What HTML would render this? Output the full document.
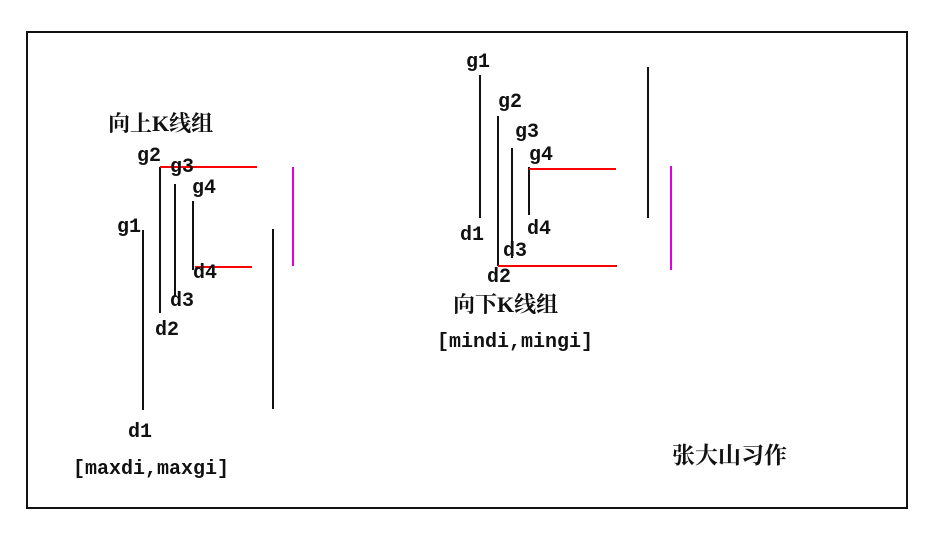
<!DOCTYPE html>
<html><head><meta charset="utf-8"><style>
html,body{margin:0;padding:0;background:#fff;}
svg{display:block;}
text{font-family:"Liberation Mono","Noto Serif CJK SC",monospace;font-size:20px;fill:#111;font-weight:bold;}
.c{font-family:"Liberation Serif","Noto Serif CJK SC",serif;font-size:22px;font-weight:bold;}
</style></head><body>
<svg width="950" height="537" viewBox="0 0 950 537">
<rect x="27" y="32" width="880" height="476" fill="none" stroke="#111" stroke-width="2"/>
<g stroke="#111" stroke-width="2">
<line x1="143" y1="230" x2="143" y2="410"/>
<line x1="160" y1="167" x2="160" y2="313"/>
<line x1="175" y1="184" x2="175" y2="297"/>
<line x1="193" y1="201" x2="193" y2="270"/>
<line x1="273" y1="229" x2="273" y2="409"/>
<line x1="480" y1="75" x2="480" y2="218"/>
<line x1="498" y1="116" x2="498" y2="266"/>
<line x1="512" y1="148" x2="512" y2="258"/>
<line x1="529" y1="167" x2="529" y2="215"/>
<line x1="648" y1="67" x2="648" y2="218"/>
</g>
<g stroke="#f00" stroke-width="2">
<line x1="160" y1="167" x2="257" y2="167"/>
<line x1="195" y1="267" x2="252" y2="267"/>
<line x1="529" y1="169" x2="616" y2="169"/>
<line x1="498" y1="266" x2="617" y2="266"/>
</g>
<g stroke="#e000e0" stroke-width="2">
<line x1="293" y1="167" x2="293" y2="266"/>
<line x1="671" y1="166" x2="671" y2="270"/>
</g>
<text class="c" x="108" y="131">向上K线组</text>
<text x="117" y="232">g1</text>
<text x="137" y="161">g2</text>
<text x="170" y="172">g3</text>
<text x="192" y="193">g4</text>
<text x="193" y="278">d4</text>
<text x="170" y="306">d3</text>
<text x="155" y="335">d2</text>
<text x="128" y="437">d1</text>
<text x="73" y="474">[maxdi,maxgi]</text>
<text x="466" y="67">g1</text>
<text x="498" y="107">g2</text>
<text x="515" y="137">g3</text>
<text x="529" y="160">g4</text>
<text x="460" y="240">d1</text>
<text x="527" y="234">d4</text>
<text x="503" y="256">d3</text>
<text x="487" y="282">d2</text>
<text class="c" x="453" y="312">向下K线组</text>
<text x="437" y="347">[mindi,mingi]</text>
<text class="c" x="672" y="463" style="font-size:23px">张大山习作</text>
</svg>
</body></html>
